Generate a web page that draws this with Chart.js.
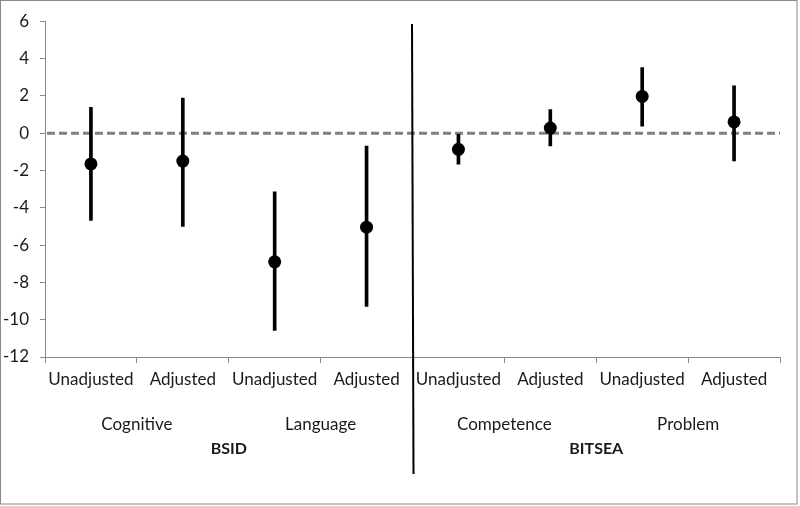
<!DOCTYPE html>
<html>
<head>
<meta charset="utf-8">
<script src="https://cdn.jsdelivr.net/npm/chart.js@4.4.1/dist/chart.umd.min.js"></script>
<style>
  html, body { margin: 0; padding: 0; background: #fff; }
  #wrap { width: 800px; height: 506px; position: relative; }
</style>
</head>
<body>
<div id="wrap"><canvas id="c" width="800" height="506"></canvas></div>
<script>
// ---- data ----
const categories = ['Unadjusted', 'Adjusted', 'Unadjusted', 'Adjusted', 'Unadjusted', 'Adjusted', 'Unadjusted', 'Adjusted'];
const subscales = ['Cognitive', 'Language', 'Competence', 'Problem'];
const instruments = ['BSID', 'BITSEA'];
const estimates = [-1.65, -1.5, -6.9, -5.04, -0.87, 0.27, 1.97, 0.6];
const lowerCI = [-4.68, -5.0, -10.57, -9.29, -1.67, -0.69, 0.37, -1.49];
const upperCI = [1.38, 1.88, -3.15, -0.69, -0.07, 1.26, 3.51, 2.54];
const yMin = -12, yMax = 6, yStep = 2;
const referenceValue = 0;
const separatorTop = 5.85;

const FONT = 'Lato, "Open Sans", sans-serif';
const axisGray = '#8a8a8a';
const textCol = '#1a1a1a';

const ciRanges = lowerCI.map((lo, i) => [lo, upperCI[i]]);

const decor = {
  id: 'decor',
  beforeDatasetsDraw(chart) {
    const { ctx, chartArea, scales } = chart;
    const y0 = scales.y.getPixelForValue(referenceValue);
    ctx.save();
    ctx.strokeStyle = '#808080';
    ctx.lineWidth = 3;
    ctx.setLineDash([8, 4]);
    ctx.beginPath();
    ctx.moveTo(chartArea.left + 2, y0);
    ctx.lineTo(chartArea.right, y0);
    ctx.stroke();
    ctx.restore();
  },
  afterDraw(chart) {
    const { ctx, scales } = chart;
    const xs = (scales.x.getPixelForValue(3) + scales.x.getPixelForValue(4)) / 2;
    const top = scales.y.getPixelForValue(separatorTop);
    ctx.save();
    ctx.strokeStyle = '#000';
    ctx.lineWidth = 2;
    ctx.beginPath();
    ctx.moveTo(xs - 0.5, top);
    ctx.lineTo(xs + 1, chart.height - 32);
    ctx.stroke();
    ctx.strokeStyle = '#8a8a8a';
    ctx.lineWidth = 1;
    ctx.strokeRect(0.5, 0.5, 796.5, 503.5);
    ctx.restore();
  }
};

new Chart(document.getElementById('c'), {
  type: 'bar',
  data: {
    labels: categories,
    datasets: [
      {
        type: 'line',
        data: estimates,
        showLine: false,
        pointRadius: 6.5,
        pointBackgroundColor: '#000',
        pointBorderColor: '#000',
        pointBorderWidth: 0,
        xAxisID: 'x',
        yAxisID: 'y',
        order: 0
      },
      {
        type: 'bar',
        data: ciRanges,
        backgroundColor: '#000',
        borderWidth: 0,
        barThickness: 3,
        xAxisID: 'x',
        yAxisID: 'y',
        order: 1
      }
    ]
  },
  options: {
    responsive: false,
    animation: false,
    devicePixelRatio: 1,
    layout: { padding: { top: 19, right: 20, left: 0, bottom: 42 } },
    plugins: { legend: { display: false }, tooltip: { enabled: false } },
    scales: {
      y: {
        min: yMin, max: yMax,
        ticks: { stepSize: yStep, color: textCol, font: { family: FONT, size: 17 }, padding: 11 },
        grid: { drawOnChartArea: false, drawTicks: true, tickLength: 5, color: axisGray },
        border: { display: true, color: axisGray },
        afterFit(s) { s.width = 45; }
      },
      x: {
        position: 'bottom',
        weight: 0,
        offset: true,
        ticks: { color: textCol, font: { family: FONT, size: 17 }, padding: 6, maxRotation: 0, autoSkip: false },
        grid: { offset: true, drawOnChartArea: false, drawTicks: true, tickLength: 6, color: axisGray },
        border: { display: true, color: axisGray },
        afterFit(s) { s.height = 40; }
      },
      x2: {
        type: 'category',
        position: 'bottom',
        weight: 1,
        labels: subscales,
        offset: true,
        ticks: { color: textCol, font: { family: FONT, size: 17 }, padding: 17, maxRotation: 0, autoSkip: false },
        grid: { display: false, drawTicks: false },
        border: { display: false },
        afterFit(s) { s.height = 40; }
      },
      x3: {
        type: 'category',
        position: 'bottom',
        weight: 2,
        labels: instruments,
        offset: true,
        ticks: { color: textCol, font: { family: FONT, size: 16, weight: 'bold' }, padding: 2, maxRotation: 0, autoSkip: false },
        grid: { display: false, drawTicks: false },
        border: { display: false },
        afterFit(s) { s.height = 27; }
      }
    }
  },
  plugins: [decor]
});
</script>
</body>
</html>
